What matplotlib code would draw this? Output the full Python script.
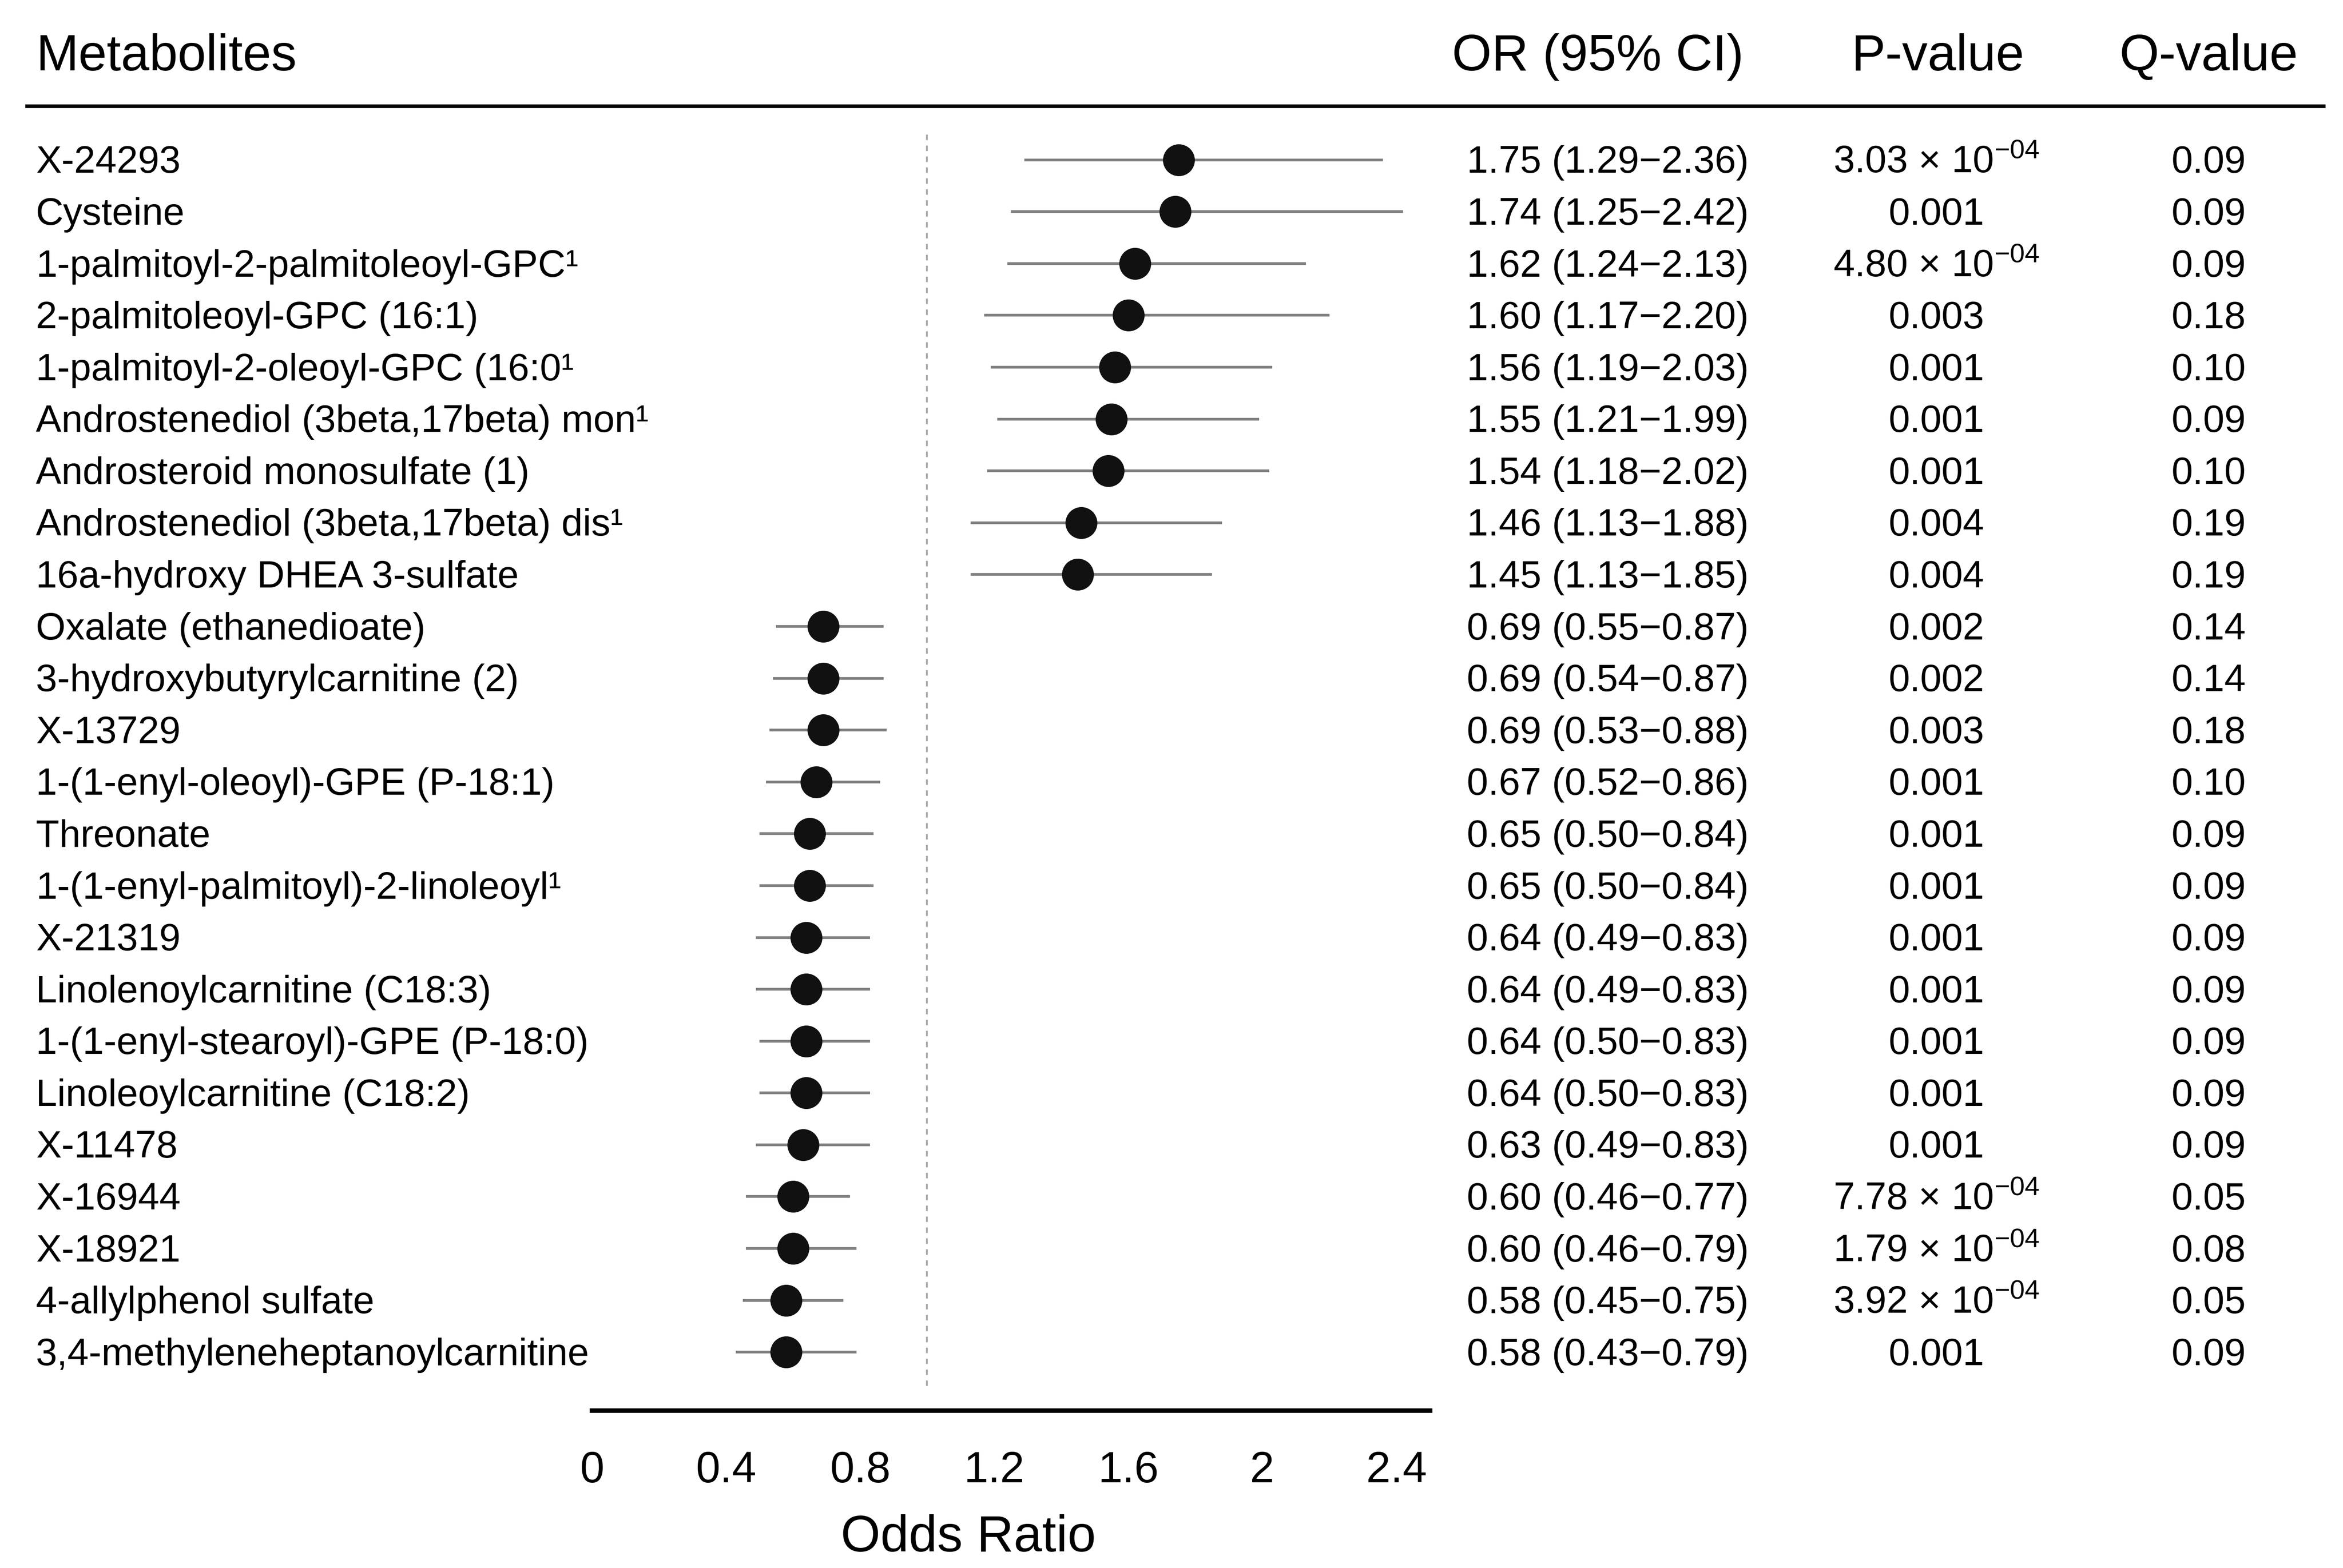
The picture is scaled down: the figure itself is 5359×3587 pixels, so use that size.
import matplotlib.pyplot as plt
import matplotlib.transforms as mtransforms

plt.rcParams['font.family'] = ['Liberation Sans', 'DejaVu Sans']
plt.rcParams['mathtext.fontset'] = 'custom'
plt.rcParams['mathtext.rm'] = 'Liberation Sans'
plt.rcParams['mathtext.it'] = 'Liberation Sans:italic'
plt.rcParams['mathtext.default'] = 'rm'

metabolites = [
    'X-24293', 'Cysteine', '1-palmitoyl-2-palmitoleoyl-GPC\u00b9',
    '2-palmitoleoyl-GPC (16:1)', '1-palmitoyl-2-oleoyl-GPC (16:0\u00b9',
    'Androstenediol (3beta,17beta) mon\u00b9', 'Androsteroid monosulfate (1)',
    'Androstenediol (3beta,17beta) dis\u00b9', '16a-hydroxy DHEA 3-sulfate',
    'Oxalate (ethanedioate)', '3-hydroxybutyrylcarnitine (2)', 'X-13729',
    '1-(1-enyl-oleoyl)-GPE (P-18:1)', 'Threonate',
    '1-(1-enyl-palmitoyl)-2-linoleoyl\u00b9', 'X-21319',
    'Linolenoylcarnitine (C18:3)', '1-(1-enyl-stearoyl)-GPE (P-18:0)',
    'Linoleoylcarnitine (C18:2)', 'X-11478', 'X-16944', 'X-18921',
    '4-allylphenol sulfate', '3,4-methyleneheptanoylcarnitine',
]
odds = [1.75, 1.74, 1.62, 1.60, 1.56, 1.55, 1.54, 1.46, 1.45, 0.69, 0.69, 0.69,
        0.67, 0.65, 0.65, 0.64, 0.64, 0.64, 0.64, 0.63, 0.60, 0.60, 0.58, 0.58]
ci_low = [1.29, 1.25, 1.24, 1.17, 1.19, 1.21, 1.18, 1.13, 1.13, 0.55, 0.54, 0.53,
          0.52, 0.50, 0.50, 0.49, 0.49, 0.50, 0.50, 0.49, 0.46, 0.46, 0.45, 0.43]
ci_high = [2.36, 2.42, 2.13, 2.20, 2.03, 1.99, 2.02, 1.88, 1.85, 0.87, 0.87, 0.88,
           0.86, 0.84, 0.84, 0.83, 0.83, 0.83, 0.83, 0.83, 0.77, 0.79, 0.75, 0.79]
p_text = ['3.03 × 10$^{-04}$', '0.001', '4.80 × 10$^{-04}$', '0.003', '0.001', '0.001',
          '0.001', '0.004', '0.004', '0.002', '0.002', '0.003', '0.001', '0.001',
          '0.001', '0.001', '0.001', '0.001', '0.001', '0.001', '7.78 × 10$^{-04}$',
          '1.79 × 10$^{-04}$', '3.92 × 10$^{-04}$', '0.001']
q_values = [0.09, 0.09, 0.09, 0.18, 0.10, 0.09, 0.10, 0.19, 0.19, 0.14, 0.14, 0.18,
            0.10, 0.09, 0.09, 0.09, 0.09, 0.09, 0.09, 0.09, 0.05, 0.08, 0.05, 0.09]
x_ticks = [0, 0.4, 0.8, 1.2, 1.6, 2, 2.4]

n = len(metabolites)
rows = list(range(n))

fig = plt.figure(figsize=(5359 / 300, 3587 / 300), dpi=300)
ax = fig.add_axes([0.2526, 0.1005, 0.3577, 0.8185])

# confidence intervals and points
ax.hlines(rows, ci_low, ci_high, color='#808080', lw=1.5, zorder=1)
ax.plot(odds, rows, 'o', color='#111111', ms=16.5, zorder=2)
ax.plot([1, 1], [-0.49, n - 0.34], ls=(0, (3, 3)), color='#aaaaaa', lw=1.0, zorder=0)

ax.set_xlim(0, 2.5)
ax.set_ylim(n + 0.124, -0.634)
ax.set_xticks(x_ticks)
ax.set_xticklabels(['0', '0.4', '0.8', '1.2', '1.6', '2', '2.4'])
ax.tick_params(axis='x', length=0, pad=22, labelsize=24)
ax.set_yticks([])
for s in ['top', 'right', 'left']:
    ax.spines[s].set_visible(False)
ax.spines['bottom'].set_linewidth(2.5)
ax.set_xlabel('Odds Ratio', fontsize=28)
ax.xaxis.set_label_coords(0.449, -0.081)

# table columns
tr = mtransforms.blended_transform_factory(fig.transFigure, ax.transData)
for i in rows:
    y = i + 0.06
    fig.text(0.0153, y, metabolites[i], transform=tr, ha='left', va='center', fontsize=21)
    fig.text(0.6862, y, '%.2f (%.2f\u2212%.2f)' % (odds[i], ci_low[i], ci_high[i]),
             transform=tr, ha='center', va='center', fontsize=21)
    fig.text(0.8265, y, p_text[i], transform=tr, ha='center', va='center', fontsize=21)
    fig.text(0.9426, y, '%.2f' % q_values[i], transform=tr, ha='center', va='center',
             fontsize=21)

# header
hy = 0.9635
fig.text(0.0153, hy, 'Metabolites', ha='left', va='center', fontsize=28)
fig.text(0.682, hy, 'OR (95% CI)', ha='center', va='center', fontsize=28)
fig.text(0.827, hy, 'P-value', ha='center', va='center', fontsize=28)
fig.text(0.9426, hy, 'Q-value', ha='center', va='center', fontsize=28)
fig.add_artist(plt.Line2D([0.0115, 0.9917], [0.9323, 0.9323], color='black', lw=2))

fig.savefig('out.png', dpi=300, facecolor='white')
